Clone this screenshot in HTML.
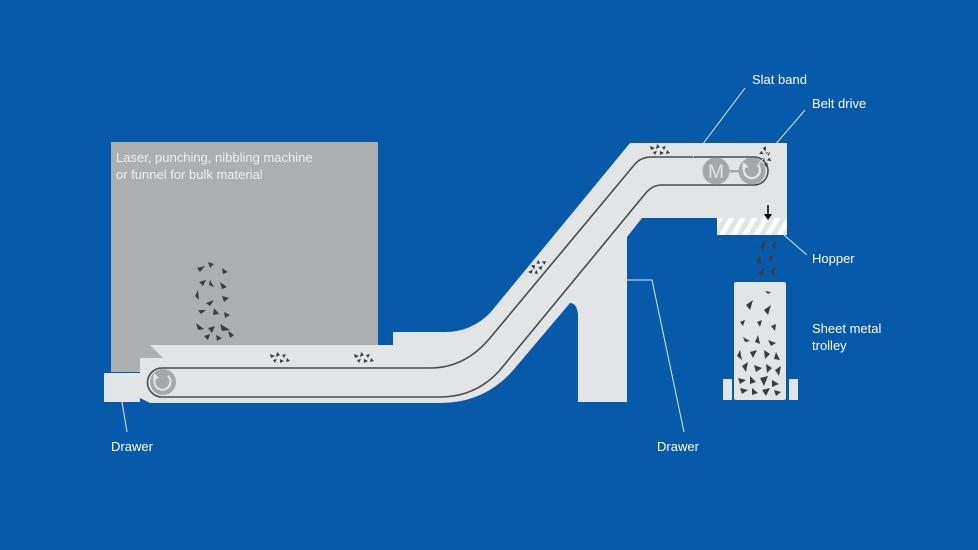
<!DOCTYPE html>
<html><head><meta charset="utf-8"><style>
html,body{margin:0;padding:0;background:#0759aa;}
svg{display:block}
text{font-family:"Liberation Sans",sans-serif;font-size:13px;fill:#fff}
</style></head><body>
<svg width="978" height="550" viewBox="0 0 978 550" xmlns="http://www.w3.org/2000/svg">
<defs>
<pattern id="hatch" width="10" height="10" patternUnits="userSpaceOnUse" patternTransform="rotate(30)">
<rect width="10" height="10" fill="#e3e4e6"/><rect width="5" height="10" fill="#ffffff"/>
</pattern>
<g id="chips" fill="#3c3d40">
<polygon points="0,0 5,2 1,4"/><polygon points="7,-2 10,1 6,3"/><polygon points="12,1 16,0 14,4"/><polygon points="3,6 7,5 5,9"/><polygon points="10,5 14,7 10,9"/><polygon points="17,4 20,7 16,8"/>
</g>
</defs>
<rect width="978" height="550" fill="#0759aa"/>
<rect x="111" y="142" width="267" height="230" fill="#adaeb0"/>
<text x="116" y="162" style="fill:#eeeeee">Laser, punching, nibbling machine</text>
<text x="116" y="179" style="fill:#eeeeee">or funnel for bulk material</text>
<g fill="#3c3d40">
<polygon points="197,268 205,266 200,272"/><polygon points="208,262 214,264 210,268"/><polygon points="222,268 228,272 223,274"/>
<polygon points="199,282 206,280 203,286"/><polygon points="210,280 214,287 209,285"/><polygon points="220,282 227,287 222,289"/>
<polygon points="195,296 198,290 199,300"/><polygon points="206,303 214,300 210,306"/><polygon points="222,296 229,298 224,302"/>
<polygon points="198,310 206,310 201,314"/><polygon points="214,308 219,314 213,315"/><polygon points="224,312 230,315 225,318"/>
<polygon points="196,323 204,329 198,330"/><polygon points="208,328 215,326 212,333"/><polygon points="220,324 230,330 222,331"/>
<polygon points="204,336 210,334 208,340"/><polygon points="216,335 222,338 217,341"/><polygon points="228,331 234,335 230,338"/>
</g>
<path fill="#e3e4e6" d="M104,373 L140,373 L140,358 L163,358 L150,345 L393,345 L393,332 L445,332 Q471,332 490,313 L630,143 L787,143 L787,235 L717,235 L717,218 L642,218 L627,237 L627,402 L578,402 L578,315 Q577,303 570,303 L515,368 Q486,403 440,403 L150,403 L140,398 L140,402 L104,402 Z"/>
<rect x="717" y="218" width="70" height="17" fill="url(#hatch)"/>
<path d="M768,205 V216" stroke="#000" stroke-width="1.5"/><polygon points="764,214 772,214 768,220" fill="#000"/>
<path fill="none" stroke="#4a4b4e" stroke-width="1.6" d="M162,368 L430,368 Q465,368 490,338 L635,164 Q641,157 652,157 L754,157 A14,14 0 0 1 754,185 L662,185 Q652,185 645,194 L500,370 Q476,397 440,397 L162,397 A14.5,14.5 0 0 1 162,368 Z"/>
<circle cx="163" cy="382" r="13" fill="#a6a7a9"/>
<path d="M156,377 A8,8 0 1 0 168,376" fill="none" stroke="#e3e4e6" stroke-width="2"/>
<polygon points="154,373 159,378 153,380" fill="#e3e4e6"/>
<circle cx="716" cy="171" r="13.5" fill="#a6a7a9"/>
<text x="716" y="178" text-anchor="middle" style="font-size:19px;fill:#e3e4e6">M</text>
<rect x="729" y="170" width="10" height="2.5" fill="#a6a7a9"/>
<circle cx="752" cy="171" r="13.5" fill="#a6a7a9"/>
<path d="M745,166 A8,8 0 1 0 758,165" fill="none" stroke="#e3e4e6" stroke-width="2.2"/>
<polygon points="743,162 749,167 742,169" fill="#e3e4e6"/>
<use href="#chips" x="270" y="354"/><use href="#chips" x="354" y="354"/>
<use href="#chips" x="650" y="146"/>
<use href="#chips" transform="translate(528,272) rotate(-50)"/>
<use href="#chips" transform="translate(766,146) rotate(70)"/>
<g fill="#3c3d40"><polygon points="760,246 766,240 763,250"/><polygon points="772,245 776,240 775,250"/><polygon points="756,262 760,256 761,264"/><polygon points="768,258 774,254 771,262"/><polygon points="758,273 764,268 763,276"/><polygon points="770,270 776,267 773,276"/></g>
<rect x="723" y="379" width="9" height="21" fill="#e3e4e6"/><rect x="789" y="379" width="9" height="21" fill="#e3e4e6"/>
<rect x="734" y="282" width="52" height="118" rx="2" fill="#e3e4e6"/>
<g fill="#3c3d40">
<polygon points="765,291 771,292 768,294"/><polygon points="746,305 753,300 750,310"/><polygon points="764,310 771,305 768,315"/>
<polygon points="740,322 745,320 743,326"/><polygon points="757,322 762,320 760,327"/><polygon points="771,326 776,324 775,331"/>
<polygon points="743,337 750,341 745,342"/><polygon points="758,335 760,344 755,342"/><polygon points="768,340 776,343 771,346"/>
<polygon points="740,350 742,360 737,356"/><polygon points="750,352 757,350 753,358"/><polygon points="764,350 770,354 765,359"/><polygon points="776,352 780,360 774,359"/>
<polygon points="742,366 748,362 746,372"/><polygon points="754,365 762,368 756,372"/><polygon points="766,364 772,368 767,373"/><polygon points="775,370 781,366 779,376"/>
<polygon points="738,378 746,380 740,384"/><polygon points="750,376 756,382 750,384"/><polygon points="760,378 768,376 764,386"/><polygon points="772,380 779,384 772,387"/>
<polygon points="740,388 748,390 742,394"/><polygon points="752,388 758,393 752,395"/><polygon points="762,390 770,388 766,396"/><polygon points="774,390 781,392 776,396"/>
</g>
<g stroke="#dfe8f4" stroke-width="1" fill="none">
<path d="M745,88 L693,157"/><path d="M805,110 L757,166"/><path d="M807,255 L784,235"/>
<path d="M122,402 L127,432"/><path d="M620,280 L652,280 L684,432"/>
</g>
<text x="752" y="84">Slat band</text>
<text x="812" y="108">Belt drive</text>
<text x="812" y="263">Hopper</text>
<text x="812" y="333">Sheet metal</text>
<text x="812" y="350">trolley</text>
<text x="111" y="451">Drawer</text>
<text x="657" y="451">Drawer</text>
</svg>
</body></html>
